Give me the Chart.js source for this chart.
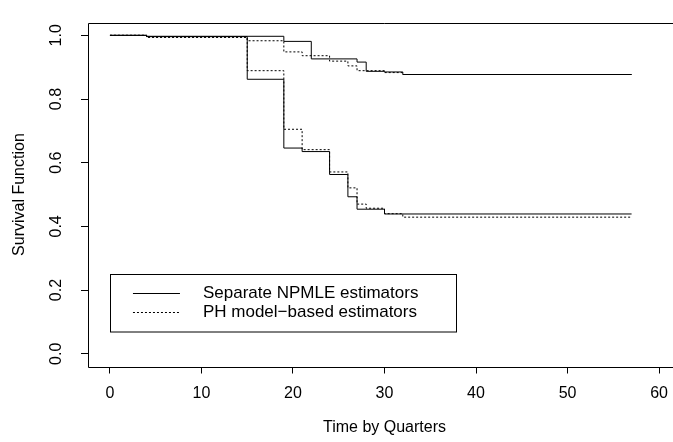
<!DOCTYPE html>
<html>
<head>
<meta charset="utf-8">
<script src="https://cdn.jsdelivr.net/npm/chart.js@4"></script>
<style>
html, body { margin: 0; padding: 0; background: #fff; overflow: hidden; }
</style>
</head>
<body>
<canvas id="survChart" width="700" height="442"></canvas>
<script>
// event times (quarters) and survival estimates for the two groups
var timesNpmleA = [0, 4, 19, 22, 27, 28, 30, 32, 57];
var survNpmleA  = [1.0, 0.997, 0.981, 0.926, 0.916, 0.887, 0.885, 0.877, 0.877];

var timesPhA = [0, 4, 15, 19, 21, 24, 26, 27, 30, 32, 57];
var survPhA  = [1.0, 0.994, 0.983, 0.948, 0.936, 0.919, 0.904, 0.889, 0.883, 0.877, 0.877];

var timesNpmleB = [0, 4, 15, 19, 21, 24, 26, 27, 30, 57];
var survNpmleB  = [1.0, 0.996, 0.862, 0.646, 0.635, 0.563, 0.493, 0.454, 0.439, 0.439];

var timesPhB = [0, 4, 15, 19, 21, 24, 26, 27, 28, 30, 32, 57];
var survPhB  = [1.0, 0.994, 0.889, 0.705, 0.641, 0.571, 0.521, 0.470, 0.457, 0.440, 0.429, 0.429];

var xTicks = [0, 10, 20, 30, 40, 50, 60];
var yTicks = [0, 0.2, 0.4, 0.6, 0.8, 1.0];
var legendLabels = ['Separate NPMLE estimators', 'PH model\u2212based estimators'];

var FONT = '"Liberation Sans", Arial, Helvetica, sans-serif';

function toPoints(ts, ss) {
    return ts.map(function (t, i) { return { x: t, y: ss[i] }; });
}

function stepLine(ts, ss, dashed) {
    return {
        data: toPoints(ts, ss),
        borderColor: '#000',
        borderWidth: 1,
        borderDash: dashed ? [2, 2] : [],
        pointRadius: 0,
        stepped: true,
        fill: false
    };
}

// frame around the plotting region; its right side lies past the page edge
var frame = {
    id: 'frame',
    beforeDatasetsDraw: function (chart) {
        var a = chart.chartArea, ctx = chart.ctx;
        var l = Math.round(a.left) + 0.5, t = Math.round(a.top) + 0.5, b = Math.round(a.bottom) + 0.5;
        ctx.save();
        ctx.strokeStyle = '#000';
        ctx.lineWidth = 1;
        ctx.beginPath();
        ctx.moveTo(a.right, t);
        ctx.lineTo(l, t);
        ctx.lineTo(l, b);
        ctx.lineTo(a.right, b);
        ctx.stroke();
        ctx.restore();
    }
};

// legend box anchored at (0, 0.25) in data units
var legendBox = {
    id: 'legendBox',
    afterDatasetsDraw: function (chart) {
        var ctx = chart.ctx;
        var left = chart.scales.x.getPixelForValue(0);
        var top = chart.scales.y.getPixelForValue(0.25);
        var w = 346, h = 57.5;
        ctx.save();
        ctx.strokeStyle = '#000';
        ctx.lineWidth = 1;
        ctx.strokeRect(Math.round(left) + 0.5, Math.round(top) + 0.5, w, h);
        ctx.font = '17px ' + FONT;
        ctx.fillStyle = '#000';
        ctx.textBaseline = 'middle';
        legendLabels.forEach(function (txt, i) {
            var yy = Math.round(top + 18.5 + i * 19.3) + 0.5;
            ctx.setLineDash(i === 1 ? [2, 2] : []);
            ctx.beginPath();
            ctx.moveTo(left + 23, yy);
            ctx.lineTo(left + 70, yy);
            ctx.stroke();
            ctx.fillText(txt, left + 93, yy);
        });
        ctx.restore();
    }
};

new Chart(document.getElementById('survChart'), {
    type: 'line',
    data: {
        datasets: [
            stepLine(timesNpmleA, survNpmleA, false),
            stepLine(timesPhA, survPhA, true),
            stepLine(timesNpmleB, survNpmleB, false),
            stepLine(timesPhB, survPhB, true)
        ]
    },
    options: {
        responsive: false,
        animation: false,
        devicePixelRatio: 1,
        layout: { padding: { top: 4.5, right: 19, left: 0, bottom: 0 } },
        plugins: { legend: { display: false }, tooltip: { enabled: false } },
        scales: {
            x: {
                type: 'linear',
                min: -2.4,
                max: 62.4,
                afterBuildTicks: function (s) { s.ticks = xTicks.map(function (v) { return { value: v }; }); },
                afterFit: function (s) { s.height = 75.5; },
                border: { display: false },
                grid: { drawOnChartArea: false, drawTicks: true, tickLength: 7, color: '#000', lineWidth: 1 },
                ticks: { color: '#000', font: { family: FONT, size: 16 }, padding: 10, maxRotation: 0 },
                title: { display: true, text: 'Time by Quarters', color: '#000', font: { family: FONT, size: 16 }, padding: { top: 0, bottom: 5 } }
            },
            y: {
                type: 'linear',
                min: -0.04,
                max: 1.04,
                afterBuildTicks: function (s) { s.ticks = yTicks.map(function (v) { return { value: v }; }); },
                afterFit: function (s) { s.width = 88; },
                border: { display: false },
                grid: { drawOnChartArea: false, drawTicks: true, tickLength: 7, color: '#000', lineWidth: 1 },
                ticks: {
                    color: '#000', font: { family: FONT, size: 16 }, padding: 13,
                    minRotation: 90, maxRotation: 90, crossAlign: 'center',
                    callback: function (v) { return v.toFixed(1); }
                },
                title: { display: true, text: 'Survival Function', color: '#000', font: { family: FONT, size: 16 }, padding: { top: 10, bottom: 0 } }
            }
        }
    },
    plugins: [frame, legendBox]
});
</script>
</body>
</html>
